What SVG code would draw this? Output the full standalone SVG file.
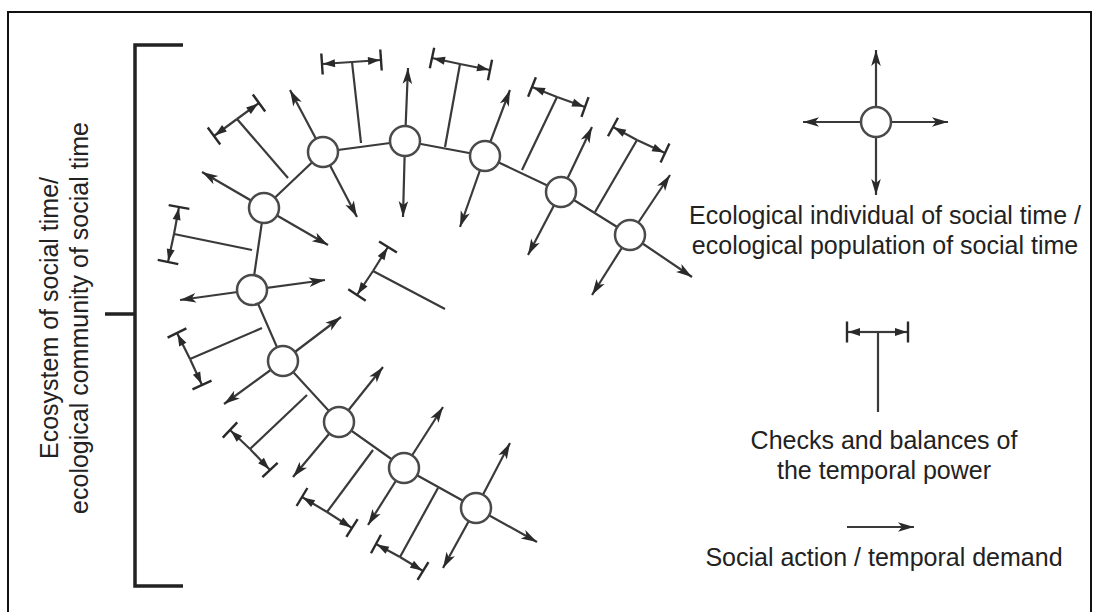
<svg xmlns="http://www.w3.org/2000/svg" width="1098" height="612" viewBox="0 0 1098 612">
<style>
.frame{fill:none;stroke:#111;stroke-width:2}
.br{fill:none;stroke:#222;stroke-width:3.5}
.ln{stroke:#3a3a3a;stroke-width:2.2;fill:none}
.act{stroke:#3a3a3a;stroke-width:2.2;fill:none;marker-end:url(#arr)}
.cb{stroke:#3a3a3a;stroke-width:2.2;fill:none;marker-end:url(#cap)}
.nd{fill:#fff;stroke:#4a4a4a;stroke-width:2.5}
.tx{font-family:"Liberation Sans",Arial,sans-serif;font-size:25px;fill:#222}
</style>
<defs>
<marker id="arr" markerUnits="userSpaceOnUse" orient="auto" overflow="visible" refX="0" refY="0" markerWidth="1" markerHeight="1">
<path d="M-16,-4.8 L0,0 L-16,4.8 L-12,0 Z" fill="#2a2a2a"/>
</marker>
<marker id="cap" markerUnits="userSpaceOnUse" orient="auto" overflow="visible" refX="0" refY="0" markerWidth="1" markerHeight="1">
<path d="M-13,-4 L-1,0 L-13,4 Z" fill="#2a2a2a"/>
<path d="M0,-10.5 L0,10.5" stroke="#2a2a2a" stroke-width="2.4"/>
</marker>
</defs>
<rect x="0" y="0" width="1098" height="612" fill="#fff"/>
<rect class="frame" x="8" y="12" width="1083" height="610"/>

<g id="bracket">
<path class="br" d="M183,45 H135 V586 H183"/>
<path class="br" d="M105,314 H135"/>
<text class="tx" text-anchor="middle" transform="translate(58,318) rotate(-90)">Ecosystem of social time/</text>
<text class="tx" text-anchor="middle" transform="translate(88,318) rotate(-90)">ecological community of social time</text>
</g>

<g id="connectors">
<polyline class="ln" points="630,235 561,192 485,156 405,141 323,152 264,208 252,290 283,361 339,422 404,468 476,508" stroke-width="2.5"/>
<line class="ln" x1="288" y1="178" x2="237" y2="119"/>
<line class="cb" x1="237" y1="119" x2="214" y2="136"/>
<line class="cb" x1="237" y1="119" x2="259" y2="103"/>
<line class="ln" x1="361" y1="143" x2="352" y2="62"/>
<line class="cb" x1="352" y1="62" x2="322" y2="64"/>
<line class="cb" x1="352" y1="62" x2="381" y2="60"/>
<line class="ln" x1="445" y1="147" x2="460" y2="64"/>
<line class="cb" x1="460" y1="64" x2="432" y2="58"/>
<line class="cb" x1="460" y1="64" x2="490" y2="70"/>
<line class="ln" x1="522" y1="170" x2="557" y2="97"/>
<line class="cb" x1="557" y1="97" x2="532" y2="87"/>
<line class="cb" x1="557" y1="97" x2="585" y2="107"/>
<line class="ln" x1="595" y1="212" x2="637" y2="140"/>
<line class="cb" x1="637" y1="140" x2="613" y2="127"/>
<line class="cb" x1="637" y1="140" x2="665" y2="153"/>
<line class="ln" x1="252" y1="250" x2="174" y2="234"/>
<line class="cb" x1="174" y1="234" x2="179" y2="207"/>
<line class="cb" x1="174" y1="234" x2="168" y2="262"/>
<line class="ln" x1="262" y1="328" x2="190" y2="359"/>
<line class="cb" x1="190" y1="359" x2="177" y2="333"/>
<line class="cb" x1="190" y1="359" x2="202" y2="385"/>
<line class="ln" x1="307" y1="395" x2="250" y2="449"/>
<line class="cb" x1="250" y1="449" x2="230" y2="430"/>
<line class="cb" x1="250" y1="449" x2="270" y2="470"/>
<line class="ln" x1="373" y1="450" x2="327" y2="512"/>
<line class="cb" x1="327" y1="512" x2="302" y2="497"/>
<line class="cb" x1="327" y1="512" x2="352" y2="528"/>
<line class="ln" x1="438" y1="488" x2="400" y2="557"/>
<line class="cb" x1="400" y1="557" x2="376" y2="544"/>
<line class="cb" x1="400" y1="557" x2="423" y2="571"/>
<line class="ln" x1="445" y1="309" x2="373" y2="271"/>
<line class="cb" x1="373" y1="271" x2="388" y2="247"/>
<line class="cb" x1="373" y1="271" x2="357" y2="295"/>
<line class="act" x1="252" y1="290" x2="180" y2="300"/>
<line class="act" x1="252" y1="290" x2="325" y2="280"/>
<line class="act" x1="264" y1="208" x2="202" y2="172"/>
<line class="act" x1="264" y1="208" x2="328" y2="245"/>
<line class="act" x1="323" y1="152" x2="290" y2="90"/>
<line class="act" x1="323" y1="152" x2="357" y2="217"/>
<line class="act" x1="405" y1="141" x2="408" y2="68"/>
<line class="act" x1="405" y1="141" x2="403" y2="217"/>
<line class="act" x1="485" y1="156" x2="510" y2="90"/>
<line class="act" x1="485" y1="156" x2="460" y2="227"/>
<line class="act" x1="561" y1="192" x2="592" y2="127"/>
<line class="act" x1="561" y1="192" x2="528" y2="255"/>
<line class="act" x1="630" y1="235" x2="670" y2="175"/>
<line class="act" x1="630" y1="235" x2="592" y2="295"/>
<line class="act" x1="630" y1="235" x2="692" y2="277"/>
<line class="act" x1="283" y1="361" x2="341" y2="317"/>
<line class="act" x1="283" y1="361" x2="224" y2="404"/>
<line class="act" x1="339" y1="422" x2="383" y2="367"/>
<line class="act" x1="339" y1="422" x2="293" y2="477"/>
<line class="act" x1="404" y1="468" x2="443" y2="407"/>
<line class="act" x1="404" y1="468" x2="368" y2="525"/>
<line class="act" x1="476" y1="508" x2="510" y2="443"/>
<line class="act" x1="476" y1="508" x2="443" y2="568"/>
<line class="act" x1="476" y1="508" x2="537" y2="542"/>
</g>

<g id="n1"><circle class="nd" cx="252" cy="290" r="15"/></g>
<g id="n2"><circle class="nd" cx="264" cy="208" r="15"/></g>
<g id="n3"><circle class="nd" cx="323" cy="152" r="15"/></g>
<g id="n4"><circle class="nd" cx="405" cy="141" r="15"/></g>
<g id="n5"><circle class="nd" cx="485" cy="156" r="15"/></g>
<g id="n6"><circle class="nd" cx="561" cy="192" r="15"/></g>
<g id="n7"><circle class="nd" cx="630" cy="235" r="15"/></g>
<g id="n8"><circle class="nd" cx="283" cy="361" r="15"/></g>
<g id="n9"><circle class="nd" cx="339" cy="422" r="15"/></g>
<g id="n10"><circle class="nd" cx="404" cy="468" r="15"/></g>
<g id="n11"><circle class="nd" cx="476" cy="508" r="15"/></g>

<g id="legend-individual">
<line class="act" x1="876" y1="122" x2="876" y2="50"/>
<line class="act" x1="876" y1="122" x2="876" y2="195"/>
<line class="act" x1="876" y1="122" x2="803" y2="122"/>
<line class="act" x1="876" y1="122" x2="948" y2="122"/>
<circle class="nd" cx="876" cy="122" r="15"/>
<text class="tx" x="885" y="224" text-anchor="middle">Ecological individual of social time /</text>
<text class="tx" x="885" y="254" text-anchor="middle">ecological population of social time</text>
</g>

<g id="legend-checks">
<line class="ln" x1="878" y1="332" x2="878" y2="412"/>
<line class="cb" x1="878" y1="332" x2="847" y2="332"/>
<line class="cb" x1="878" y1="332" x2="908" y2="332"/>
<text class="tx" x="884" y="449" text-anchor="middle">Checks and balances of</text>
<text class="tx" x="884" y="479" text-anchor="middle">the temporal power</text>
</g>

<g id="legend-action">
<line class="act" x1="847" y1="527" x2="914" y2="527"/>
<text class="tx" x="884" y="566" text-anchor="middle">Social action / temporal demand</text>
</g>
</svg>
